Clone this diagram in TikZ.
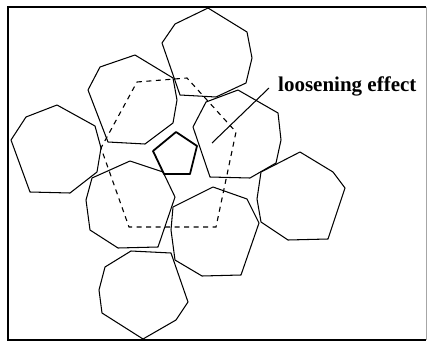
\documentclass[tikz,border=0pt]{standalone}
\usepackage{fontspec}
\setmainfont{Liberation Serif}
\begin{document}
\begin{tikzpicture}[x=1pt,y=-1pt,
  grain/.style={draw=black,line width=1.05pt,line join=round},
  core/.style={draw=black,line width=1.8pt,line join=round},
  ring/.style={draw=black,line width=1.1pt,dash pattern=on 5pt off 4.5pt},
  frame/.style={draw=black,line width=1.7pt},
  edgefaint/.style={draw=black!35,line width=0.8pt},
  leader/.style={draw=black,line width=1.05pt},
  lbl/.style={font=\bfseries\fontsize{21}{24}\selectfont,anchor=west,inner sep=0pt}]
\useasboundingbox (0,0) rectangle (427,342);
\draw[frame] (426,7) -- (8,7) -- (8,340) -- (426,340);
\draw[edgefaint] (426,7) -- (426,340);
% heptagon grains
\draw[grain] (208,8)--(247,32)--(252,58)--(246,83)--(216,97)--(180,95)--(162,43)--(175,24)--cycle;
\draw[grain] (135,55)--(173,78)--(177,100)--(173,123)--(145,144)--(108,142)--(88,90)--(100,67)--cycle;
\draw[grain] (57,105)--(95,126)--(101,148)--(97,172)--(70,193)--(30,192)--(11,140)--(26,117)--cycle;
\draw[grain] (238,90)--(278,113)--(281,140)--(276,163)--(250,178)--(210,177)--(193,127)--(206,102)--cycle;
\draw[grain] (300,152)--(333,172)--(345,188)--(328,239)--(288,240)--(261,222)--(257,199)--(261,172)--cycle;
\draw[grain] (130,161)--(163,172)--(175,197)--(158,247)--(118,248)--(90,230)--(86,200)--(92,178)--cycle;
\draw[grain] (213,187)--(247,199)--(259,223)--(241,275)--(202,276)--(175,260)--(171,230)--(173,207)--cycle;
\draw[grain] (131,251)--(171,253)--(188,302)--(176,320)--(143,339)--(102,313)--(99,290)--(105,267)--cycle;
% central pentagon
\draw[core] (176,132)--(197,146)--(190,174)--(164,174)--(153,151)--cycle;
% dashed ring
\draw[ring] (137,82)--(187,78)--(236,132)--(216,227)--(129,227)--(101,148)--cycle;
% label
\node[lbl] (label) at (278,86) {loosening effect};
\coordinate (tip) at (212,143);
\coordinate (lend) at (269,88);
\draw[leader] (tip) -- (lend);
\end{tikzpicture}
\end{document}
